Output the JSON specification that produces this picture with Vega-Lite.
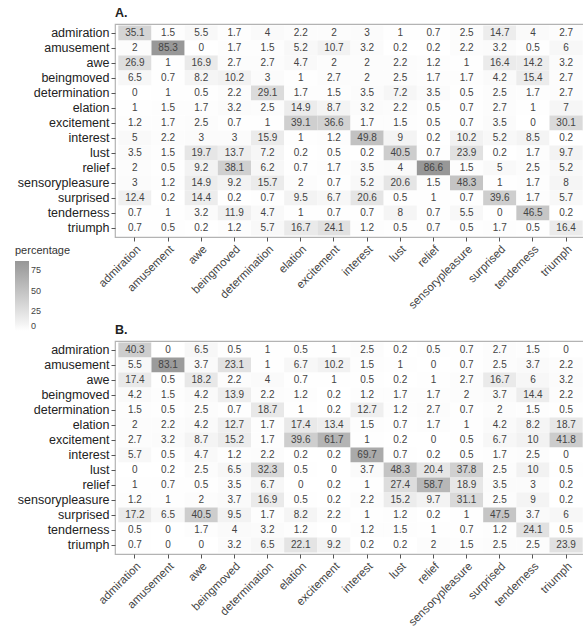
{
"$schema": "https://vega.github.io/schema/vega-lite/v6.json",
"padding": {"left": 15, "top": 5, "right": 0, "bottom": 0},
"spacing": 10,
"config": {
  "font": "Liberation Sans",
  "view": {"stroke": "#b3b3b3", "strokeWidth": 1.2},
  "axis": {"domain": false, "ticks": true, "tickSize": 4, "tickColor": "#555555", "labelPadding": 2, "title": null, "grid": false}
},
"resolve": {"scale": {"color": "shared"}},
"datasets": {
"A": [
{"row":"admiration","col":"admiration","percentage":35.1},{"row":"admiration","col":"amusement","percentage":1.5},{"row":"admiration","col":"awe","percentage":5.5},{"row":"admiration","col":"beingmoved","percentage":1.7},{"row":"admiration","col":"determination","percentage":4},{"row":"admiration","col":"elation","percentage":2.2},{"row":"admiration","col":"excitement","percentage":2},{"row":"admiration","col":"interest","percentage":3},{"row":"admiration","col":"lust","percentage":1},{"row":"admiration","col":"relief","percentage":0.7},{"row":"admiration","col":"sensorypleasure","percentage":2.5},{"row":"admiration","col":"surprised","percentage":14.7},{"row":"admiration","col":"tenderness","percentage":4},{"row":"admiration","col":"triumph","percentage":2.7},
{"row":"amusement","col":"admiration","percentage":2},{"row":"amusement","col":"amusement","percentage":85.3},{"row":"amusement","col":"awe","percentage":0},{"row":"amusement","col":"beingmoved","percentage":1.7},{"row":"amusement","col":"determination","percentage":1.5},{"row":"amusement","col":"elation","percentage":5.2},{"row":"amusement","col":"excitement","percentage":10.7},{"row":"amusement","col":"interest","percentage":3.2},{"row":"amusement","col":"lust","percentage":0.2},{"row":"amusement","col":"relief","percentage":0.2},{"row":"amusement","col":"sensorypleasure","percentage":2.2},{"row":"amusement","col":"surprised","percentage":3.2},{"row":"amusement","col":"tenderness","percentage":0.5},{"row":"amusement","col":"triumph","percentage":6},
{"row":"awe","col":"admiration","percentage":26.9},{"row":"awe","col":"amusement","percentage":1},{"row":"awe","col":"awe","percentage":16.9},{"row":"awe","col":"beingmoved","percentage":2.7},{"row":"awe","col":"determination","percentage":2.7},{"row":"awe","col":"elation","percentage":4.7},{"row":"awe","col":"excitement","percentage":2},{"row":"awe","col":"interest","percentage":2},{"row":"awe","col":"lust","percentage":2.2},{"row":"awe","col":"relief","percentage":1.2},{"row":"awe","col":"sensorypleasure","percentage":1},{"row":"awe","col":"surprised","percentage":16.4},{"row":"awe","col":"tenderness","percentage":14.2},{"row":"awe","col":"triumph","percentage":3.2},
{"row":"beingmoved","col":"admiration","percentage":6.5},{"row":"beingmoved","col":"amusement","percentage":0.7},{"row":"beingmoved","col":"awe","percentage":8.2},{"row":"beingmoved","col":"beingmoved","percentage":10.2},{"row":"beingmoved","col":"determination","percentage":3},{"row":"beingmoved","col":"elation","percentage":1},{"row":"beingmoved","col":"excitement","percentage":2.7},{"row":"beingmoved","col":"interest","percentage":2},{"row":"beingmoved","col":"lust","percentage":2.5},{"row":"beingmoved","col":"relief","percentage":1.7},{"row":"beingmoved","col":"sensorypleasure","percentage":1.7},{"row":"beingmoved","col":"surprised","percentage":4.2},{"row":"beingmoved","col":"tenderness","percentage":15.4},{"row":"beingmoved","col":"triumph","percentage":2.7},
{"row":"determination","col":"admiration","percentage":0},{"row":"determination","col":"amusement","percentage":1},{"row":"determination","col":"awe","percentage":0.5},{"row":"determination","col":"beingmoved","percentage":2.2},{"row":"determination","col":"determination","percentage":29.1},{"row":"determination","col":"elation","percentage":1.7},{"row":"determination","col":"excitement","percentage":1.5},{"row":"determination","col":"interest","percentage":3.5},{"row":"determination","col":"lust","percentage":7.2},{"row":"determination","col":"relief","percentage":3.5},{"row":"determination","col":"sensorypleasure","percentage":0.5},{"row":"determination","col":"surprised","percentage":2.5},{"row":"determination","col":"tenderness","percentage":1.7},{"row":"determination","col":"triumph","percentage":2.7},
{"row":"elation","col":"admiration","percentage":1},{"row":"elation","col":"amusement","percentage":1.5},{"row":"elation","col":"awe","percentage":1.7},{"row":"elation","col":"beingmoved","percentage":3.2},{"row":"elation","col":"determination","percentage":2.5},{"row":"elation","col":"elation","percentage":14.9},{"row":"elation","col":"excitement","percentage":8.7},{"row":"elation","col":"interest","percentage":3.2},{"row":"elation","col":"lust","percentage":2.2},{"row":"elation","col":"relief","percentage":0.5},{"row":"elation","col":"sensorypleasure","percentage":0.7},{"row":"elation","col":"surprised","percentage":2.7},{"row":"elation","col":"tenderness","percentage":1},{"row":"elation","col":"triumph","percentage":7},
{"row":"excitement","col":"admiration","percentage":1.2},{"row":"excitement","col":"amusement","percentage":1.7},{"row":"excitement","col":"awe","percentage":2.5},{"row":"excitement","col":"beingmoved","percentage":0.7},{"row":"excitement","col":"determination","percentage":1},{"row":"excitement","col":"elation","percentage":39.1},{"row":"excitement","col":"excitement","percentage":36.6},{"row":"excitement","col":"interest","percentage":1.7},{"row":"excitement","col":"lust","percentage":1.5},{"row":"excitement","col":"relief","percentage":0.5},{"row":"excitement","col":"sensorypleasure","percentage":0.7},{"row":"excitement","col":"surprised","percentage":3.5},{"row":"excitement","col":"tenderness","percentage":0},{"row":"excitement","col":"triumph","percentage":30.1},
{"row":"interest","col":"admiration","percentage":5},{"row":"interest","col":"amusement","percentage":2.2},{"row":"interest","col":"awe","percentage":3},{"row":"interest","col":"beingmoved","percentage":3},{"row":"interest","col":"determination","percentage":15.9},{"row":"interest","col":"elation","percentage":1},{"row":"interest","col":"excitement","percentage":1.2},{"row":"interest","col":"interest","percentage":49.8},{"row":"interest","col":"lust","percentage":9},{"row":"interest","col":"relief","percentage":0.2},{"row":"interest","col":"sensorypleasure","percentage":10.2},{"row":"interest","col":"surprised","percentage":5.2},{"row":"interest","col":"tenderness","percentage":8.5},{"row":"interest","col":"triumph","percentage":0.2},
{"row":"lust","col":"admiration","percentage":3.5},{"row":"lust","col":"amusement","percentage":1.5},{"row":"lust","col":"awe","percentage":19.7},{"row":"lust","col":"beingmoved","percentage":13.7},{"row":"lust","col":"determination","percentage":7.2},{"row":"lust","col":"elation","percentage":0.2},{"row":"lust","col":"excitement","percentage":0.5},{"row":"lust","col":"interest","percentage":0.2},{"row":"lust","col":"lust","percentage":40.5},{"row":"lust","col":"relief","percentage":0.7},{"row":"lust","col":"sensorypleasure","percentage":23.9},{"row":"lust","col":"surprised","percentage":0.2},{"row":"lust","col":"tenderness","percentage":1.7},{"row":"lust","col":"triumph","percentage":9.7},
{"row":"relief","col":"admiration","percentage":2},{"row":"relief","col":"amusement","percentage":0.5},{"row":"relief","col":"awe","percentage":9.2},{"row":"relief","col":"beingmoved","percentage":38.1},{"row":"relief","col":"determination","percentage":6.2},{"row":"relief","col":"elation","percentage":0.7},{"row":"relief","col":"excitement","percentage":1.7},{"row":"relief","col":"interest","percentage":3.5},{"row":"relief","col":"lust","percentage":4},{"row":"relief","col":"relief","percentage":86.6},{"row":"relief","col":"sensorypleasure","percentage":1.5},{"row":"relief","col":"surprised","percentage":5},{"row":"relief","col":"tenderness","percentage":2.5},{"row":"relief","col":"triumph","percentage":5.2},
{"row":"sensorypleasure","col":"admiration","percentage":3},{"row":"sensorypleasure","col":"amusement","percentage":1.2},{"row":"sensorypleasure","col":"awe","percentage":14.9},{"row":"sensorypleasure","col":"beingmoved","percentage":9.2},{"row":"sensorypleasure","col":"determination","percentage":15.7},{"row":"sensorypleasure","col":"elation","percentage":2},{"row":"sensorypleasure","col":"excitement","percentage":0.7},{"row":"sensorypleasure","col":"interest","percentage":5.2},{"row":"sensorypleasure","col":"lust","percentage":20.6},{"row":"sensorypleasure","col":"relief","percentage":1.5},{"row":"sensorypleasure","col":"sensorypleasure","percentage":48.3},{"row":"sensorypleasure","col":"surprised","percentage":1},{"row":"sensorypleasure","col":"tenderness","percentage":1.7},{"row":"sensorypleasure","col":"triumph","percentage":8},
{"row":"surprised","col":"admiration","percentage":12.4},{"row":"surprised","col":"amusement","percentage":0.2},{"row":"surprised","col":"awe","percentage":14.4},{"row":"surprised","col":"beingmoved","percentage":0.2},{"row":"surprised","col":"determination","percentage":0.7},{"row":"surprised","col":"elation","percentage":9.5},{"row":"surprised","col":"excitement","percentage":6.7},{"row":"surprised","col":"interest","percentage":20.6},{"row":"surprised","col":"lust","percentage":0.5},{"row":"surprised","col":"relief","percentage":1},{"row":"surprised","col":"sensorypleasure","percentage":0.7},{"row":"surprised","col":"surprised","percentage":39.6},{"row":"surprised","col":"tenderness","percentage":1.7},{"row":"surprised","col":"triumph","percentage":5.7},
{"row":"tenderness","col":"admiration","percentage":0.7},{"row":"tenderness","col":"amusement","percentage":1},{"row":"tenderness","col":"awe","percentage":3.2},{"row":"tenderness","col":"beingmoved","percentage":11.9},{"row":"tenderness","col":"determination","percentage":4.7},{"row":"tenderness","col":"elation","percentage":1},{"row":"tenderness","col":"excitement","percentage":0.7},{"row":"tenderness","col":"interest","percentage":0.7},{"row":"tenderness","col":"lust","percentage":8},{"row":"tenderness","col":"relief","percentage":0.7},{"row":"tenderness","col":"sensorypleasure","percentage":5.5},{"row":"tenderness","col":"surprised","percentage":0},{"row":"tenderness","col":"tenderness","percentage":46.5},{"row":"tenderness","col":"triumph","percentage":0.2},
{"row":"triumph","col":"admiration","percentage":0.7},{"row":"triumph","col":"amusement","percentage":0.5},{"row":"triumph","col":"awe","percentage":0.2},{"row":"triumph","col":"beingmoved","percentage":1.2},{"row":"triumph","col":"determination","percentage":5.7},{"row":"triumph","col":"elation","percentage":16.7},{"row":"triumph","col":"excitement","percentage":24.1},{"row":"triumph","col":"interest","percentage":1.2},{"row":"triumph","col":"lust","percentage":0.5},{"row":"triumph","col":"relief","percentage":0.7},{"row":"triumph","col":"sensorypleasure","percentage":0.5},{"row":"triumph","col":"surprised","percentage":1.7},{"row":"triumph","col":"tenderness","percentage":0.5},{"row":"triumph","col":"triumph","percentage":16.4}
],
"B": [
{"row":"admiration","col":"admiration","percentage":40.3},{"row":"admiration","col":"amusement","percentage":0},{"row":"admiration","col":"awe","percentage":6.5},{"row":"admiration","col":"beingmoved","percentage":0.5},{"row":"admiration","col":"determination","percentage":1},{"row":"admiration","col":"elation","percentage":0.5},{"row":"admiration","col":"excitement","percentage":1},{"row":"admiration","col":"interest","percentage":2.5},{"row":"admiration","col":"lust","percentage":0.2},{"row":"admiration","col":"relief","percentage":0.5},{"row":"admiration","col":"sensorypleasure","percentage":0.7},{"row":"admiration","col":"surprised","percentage":2.7},{"row":"admiration","col":"tenderness","percentage":1.5},{"row":"admiration","col":"triumph","percentage":0},
{"row":"amusement","col":"admiration","percentage":5.5},{"row":"amusement","col":"amusement","percentage":83.1},{"row":"amusement","col":"awe","percentage":3.7},{"row":"amusement","col":"beingmoved","percentage":23.1},{"row":"amusement","col":"determination","percentage":1},{"row":"amusement","col":"elation","percentage":6.7},{"row":"amusement","col":"excitement","percentage":10.2},{"row":"amusement","col":"interest","percentage":1.5},{"row":"amusement","col":"lust","percentage":1},{"row":"amusement","col":"relief","percentage":0},{"row":"amusement","col":"sensorypleasure","percentage":0.7},{"row":"amusement","col":"surprised","percentage":2.5},{"row":"amusement","col":"tenderness","percentage":3.7},{"row":"amusement","col":"triumph","percentage":2.2},
{"row":"awe","col":"admiration","percentage":17.4},{"row":"awe","col":"amusement","percentage":0.5},{"row":"awe","col":"awe","percentage":18.2},{"row":"awe","col":"beingmoved","percentage":2.2},{"row":"awe","col":"determination","percentage":4},{"row":"awe","col":"elation","percentage":0.7},{"row":"awe","col":"excitement","percentage":1},{"row":"awe","col":"interest","percentage":0.5},{"row":"awe","col":"lust","percentage":0.2},{"row":"awe","col":"relief","percentage":1},{"row":"awe","col":"sensorypleasure","percentage":2.7},{"row":"awe","col":"surprised","percentage":16.7},{"row":"awe","col":"tenderness","percentage":6},{"row":"awe","col":"triumph","percentage":3.2},
{"row":"beingmoved","col":"admiration","percentage":4.2},{"row":"beingmoved","col":"amusement","percentage":1.5},{"row":"beingmoved","col":"awe","percentage":4.2},{"row":"beingmoved","col":"beingmoved","percentage":13.9},{"row":"beingmoved","col":"determination","percentage":2.2},{"row":"beingmoved","col":"elation","percentage":1.2},{"row":"beingmoved","col":"excitement","percentage":0.2},{"row":"beingmoved","col":"interest","percentage":1.2},{"row":"beingmoved","col":"lust","percentage":1.7},{"row":"beingmoved","col":"relief","percentage":1.7},{"row":"beingmoved","col":"sensorypleasure","percentage":2},{"row":"beingmoved","col":"surprised","percentage":3.7},{"row":"beingmoved","col":"tenderness","percentage":14.4},{"row":"beingmoved","col":"triumph","percentage":2.2},
{"row":"determination","col":"admiration","percentage":1.5},{"row":"determination","col":"amusement","percentage":0.5},{"row":"determination","col":"awe","percentage":2.5},{"row":"determination","col":"beingmoved","percentage":0.7},{"row":"determination","col":"determination","percentage":18.7},{"row":"determination","col":"elation","percentage":1},{"row":"determination","col":"excitement","percentage":0.2},{"row":"determination","col":"interest","percentage":12.7},{"row":"determination","col":"lust","percentage":1.2},{"row":"determination","col":"relief","percentage":2.7},{"row":"determination","col":"sensorypleasure","percentage":0.7},{"row":"determination","col":"surprised","percentage":2},{"row":"determination","col":"tenderness","percentage":1.5},{"row":"determination","col":"triumph","percentage":0.5},
{"row":"elation","col":"admiration","percentage":2},{"row":"elation","col":"amusement","percentage":2.2},{"row":"elation","col":"awe","percentage":4.2},{"row":"elation","col":"beingmoved","percentage":12.7},{"row":"elation","col":"determination","percentage":1.7},{"row":"elation","col":"elation","percentage":17.4},{"row":"elation","col":"excitement","percentage":13.4},{"row":"elation","col":"interest","percentage":1.5},{"row":"elation","col":"lust","percentage":0.7},{"row":"elation","col":"relief","percentage":1.7},{"row":"elation","col":"sensorypleasure","percentage":1},{"row":"elation","col":"surprised","percentage":4.2},{"row":"elation","col":"tenderness","percentage":8.2},{"row":"elation","col":"triumph","percentage":18.7},
{"row":"excitement","col":"admiration","percentage":2.7},{"row":"excitement","col":"amusement","percentage":3.2},{"row":"excitement","col":"awe","percentage":8.7},{"row":"excitement","col":"beingmoved","percentage":15.2},{"row":"excitement","col":"determination","percentage":1.7},{"row":"excitement","col":"elation","percentage":39.6},{"row":"excitement","col":"excitement","percentage":61.7},{"row":"excitement","col":"interest","percentage":1},{"row":"excitement","col":"lust","percentage":0.2},{"row":"excitement","col":"relief","percentage":0},{"row":"excitement","col":"sensorypleasure","percentage":0.5},{"row":"excitement","col":"surprised","percentage":6.7},{"row":"excitement","col":"tenderness","percentage":10},{"row":"excitement","col":"triumph","percentage":41.8},
{"row":"interest","col":"admiration","percentage":5.7},{"row":"interest","col":"amusement","percentage":0.5},{"row":"interest","col":"awe","percentage":4.7},{"row":"interest","col":"beingmoved","percentage":1.2},{"row":"interest","col":"determination","percentage":2.2},{"row":"interest","col":"elation","percentage":0.2},{"row":"interest","col":"excitement","percentage":0.2},{"row":"interest","col":"interest","percentage":69.7},{"row":"interest","col":"lust","percentage":0.7},{"row":"interest","col":"relief","percentage":0.2},{"row":"interest","col":"sensorypleasure","percentage":0.5},{"row":"interest","col":"surprised","percentage":1.7},{"row":"interest","col":"tenderness","percentage":2.5},{"row":"interest","col":"triumph","percentage":0},
{"row":"lust","col":"admiration","percentage":0},{"row":"lust","col":"amusement","percentage":0.2},{"row":"lust","col":"awe","percentage":2.5},{"row":"lust","col":"beingmoved","percentage":6.5},{"row":"lust","col":"determination","percentage":32.3},{"row":"lust","col":"elation","percentage":0.5},{"row":"lust","col":"excitement","percentage":0},{"row":"lust","col":"interest","percentage":3.7},{"row":"lust","col":"lust","percentage":48.3},{"row":"lust","col":"relief","percentage":20.4},{"row":"lust","col":"sensorypleasure","percentage":37.8},{"row":"lust","col":"surprised","percentage":2.5},{"row":"lust","col":"tenderness","percentage":10},{"row":"lust","col":"triumph","percentage":0.5},
{"row":"relief","col":"admiration","percentage":1},{"row":"relief","col":"amusement","percentage":0.7},{"row":"relief","col":"awe","percentage":0.5},{"row":"relief","col":"beingmoved","percentage":3.5},{"row":"relief","col":"determination","percentage":6.7},{"row":"relief","col":"elation","percentage":0},{"row":"relief","col":"excitement","percentage":0.2},{"row":"relief","col":"interest","percentage":1},{"row":"relief","col":"lust","percentage":27.4},{"row":"relief","col":"relief","percentage":58.7},{"row":"relief","col":"sensorypleasure","percentage":18.9},{"row":"relief","col":"surprised","percentage":3.5},{"row":"relief","col":"tenderness","percentage":3},{"row":"relief","col":"triumph","percentage":0.2},
{"row":"sensorypleasure","col":"admiration","percentage":1.2},{"row":"sensorypleasure","col":"amusement","percentage":1},{"row":"sensorypleasure","col":"awe","percentage":2},{"row":"sensorypleasure","col":"beingmoved","percentage":3.7},{"row":"sensorypleasure","col":"determination","percentage":16.9},{"row":"sensorypleasure","col":"elation","percentage":0.5},{"row":"sensorypleasure","col":"excitement","percentage":0.2},{"row":"sensorypleasure","col":"interest","percentage":2.2},{"row":"sensorypleasure","col":"lust","percentage":15.2},{"row":"sensorypleasure","col":"relief","percentage":9.7},{"row":"sensorypleasure","col":"sensorypleasure","percentage":31.1},{"row":"sensorypleasure","col":"surprised","percentage":2.5},{"row":"sensorypleasure","col":"tenderness","percentage":9},{"row":"sensorypleasure","col":"triumph","percentage":0.2},
{"row":"surprised","col":"admiration","percentage":17.2},{"row":"surprised","col":"amusement","percentage":6.5},{"row":"surprised","col":"awe","percentage":40.5},{"row":"surprised","col":"beingmoved","percentage":9.5},{"row":"surprised","col":"determination","percentage":1.7},{"row":"surprised","col":"elation","percentage":8.2},{"row":"surprised","col":"excitement","percentage":2.2},{"row":"surprised","col":"interest","percentage":1},{"row":"surprised","col":"lust","percentage":1.2},{"row":"surprised","col":"relief","percentage":0.2},{"row":"surprised","col":"sensorypleasure","percentage":1},{"row":"surprised","col":"surprised","percentage":47.5},{"row":"surprised","col":"tenderness","percentage":3.7},{"row":"surprised","col":"triumph","percentage":6},
{"row":"tenderness","col":"admiration","percentage":0.5},{"row":"tenderness","col":"amusement","percentage":0},{"row":"tenderness","col":"awe","percentage":1.7},{"row":"tenderness","col":"beingmoved","percentage":4},{"row":"tenderness","col":"determination","percentage":3.2},{"row":"tenderness","col":"elation","percentage":1.2},{"row":"tenderness","col":"excitement","percentage":0},{"row":"tenderness","col":"interest","percentage":1.2},{"row":"tenderness","col":"lust","percentage":1.5},{"row":"tenderness","col":"relief","percentage":1},{"row":"tenderness","col":"sensorypleasure","percentage":0.7},{"row":"tenderness","col":"surprised","percentage":1.2},{"row":"tenderness","col":"tenderness","percentage":24.1},{"row":"tenderness","col":"triumph","percentage":0.5},
{"row":"triumph","col":"admiration","percentage":0.7},{"row":"triumph","col":"amusement","percentage":0},{"row":"triumph","col":"awe","percentage":0},{"row":"triumph","col":"beingmoved","percentage":3.2},{"row":"triumph","col":"determination","percentage":6.5},{"row":"triumph","col":"elation","percentage":22.1},{"row":"triumph","col":"excitement","percentage":9.2},{"row":"triumph","col":"interest","percentage":0.2},{"row":"triumph","col":"lust","percentage":0.2},{"row":"triumph","col":"relief","percentage":2},{"row":"triumph","col":"sensorypleasure","percentage":1.5},{"row":"triumph","col":"surprised","percentage":2.5},{"row":"triumph","col":"tenderness","percentage":2.5},{"row":"triumph","col":"triumph","percentage":23.9}
]
},
"vconcat": [
{
  "data": {"name": "A"},
  "title": {"text": "A.", "anchor": "start", "frame": "group", "fontSize": 12.5, "fontWeight": "bold", "color": "#222222", "offset": 5},
  "width": 471, "height": 213,
  "encoding": {
    "x": {"field": "col", "type": "nominal", "sort": null, "scale": {"paddingInner": 0, "paddingOuter": 0.1},
          "axis": {"labelAngle": -45, "labelAlign": "right", "labelBaseline": "top", "labelFontSize": 11.5, "labelColor": "#444444"}},
    "y": {"field": "row", "type": "nominal", "sort": null, "scale": {"paddingInner": 0, "paddingOuter": 0.1},
          "axis": {"labelFontSize": 12.5, "labelColor": "#222222"}}
  },
  "layer": [
    {"mark": {"type": "rect"},
     "encoding": {"color": {"field": "percentage", "type": "quantitative",
        "scale": {"domain": [0, 86.6], "range": ["#ffffff", "#979797"]},
        "legend": {"orient": "none", "legendX": -100, "legendY": 221, "title": "percentage", "direction": "vertical",
                   "values": [0, 25, 50, 75], "gradientLength": 70, "gradientThickness": 14, "gradientStrokeWidth": 0,
                   "titleFontSize": 11, "titleFontWeight": "normal", "titleColor": "#333333", "labelFontSize": 9, "labelColor": "#444444", "titlePadding": 5}}}},
    {"mark": {"type": "text", "fontSize": 10, "color": "#444444"},
     "encoding": {"text": {"field": "percentage", "type": "nominal"}}}
  ]
},
{
  "data": {"name": "B"},
  "title": {"text": "B.", "anchor": "start", "frame": "group", "fontSize": 12.5, "fontWeight": "bold", "color": "#222222", "offset": 5},
  "width": 471, "height": 213,
  "encoding": {
    "x": {"field": "col", "type": "nominal", "sort": null, "scale": {"paddingInner": 0, "paddingOuter": 0.1},
          "axis": {"labelAngle": -45, "labelAlign": "right", "labelBaseline": "top", "labelFontSize": 11.5, "labelColor": "#444444"}},
    "y": {"field": "row", "type": "nominal", "sort": null, "scale": {"paddingInner": 0, "paddingOuter": 0.1},
          "axis": {"labelFontSize": 12.5, "labelColor": "#222222"}}
  },
  "layer": [
    {"mark": {"type": "rect"},
     "encoding": {"color": {"field": "percentage", "type": "quantitative", "scale": {"domain": [0, 86.6], "range": ["#ffffff", "#979797"]}}}},
    {"mark": {"type": "text", "fontSize": 10, "color": "#444444"},
     "encoding": {"text": {"field": "percentage", "type": "nominal"}}}
  ]
}
]
}
